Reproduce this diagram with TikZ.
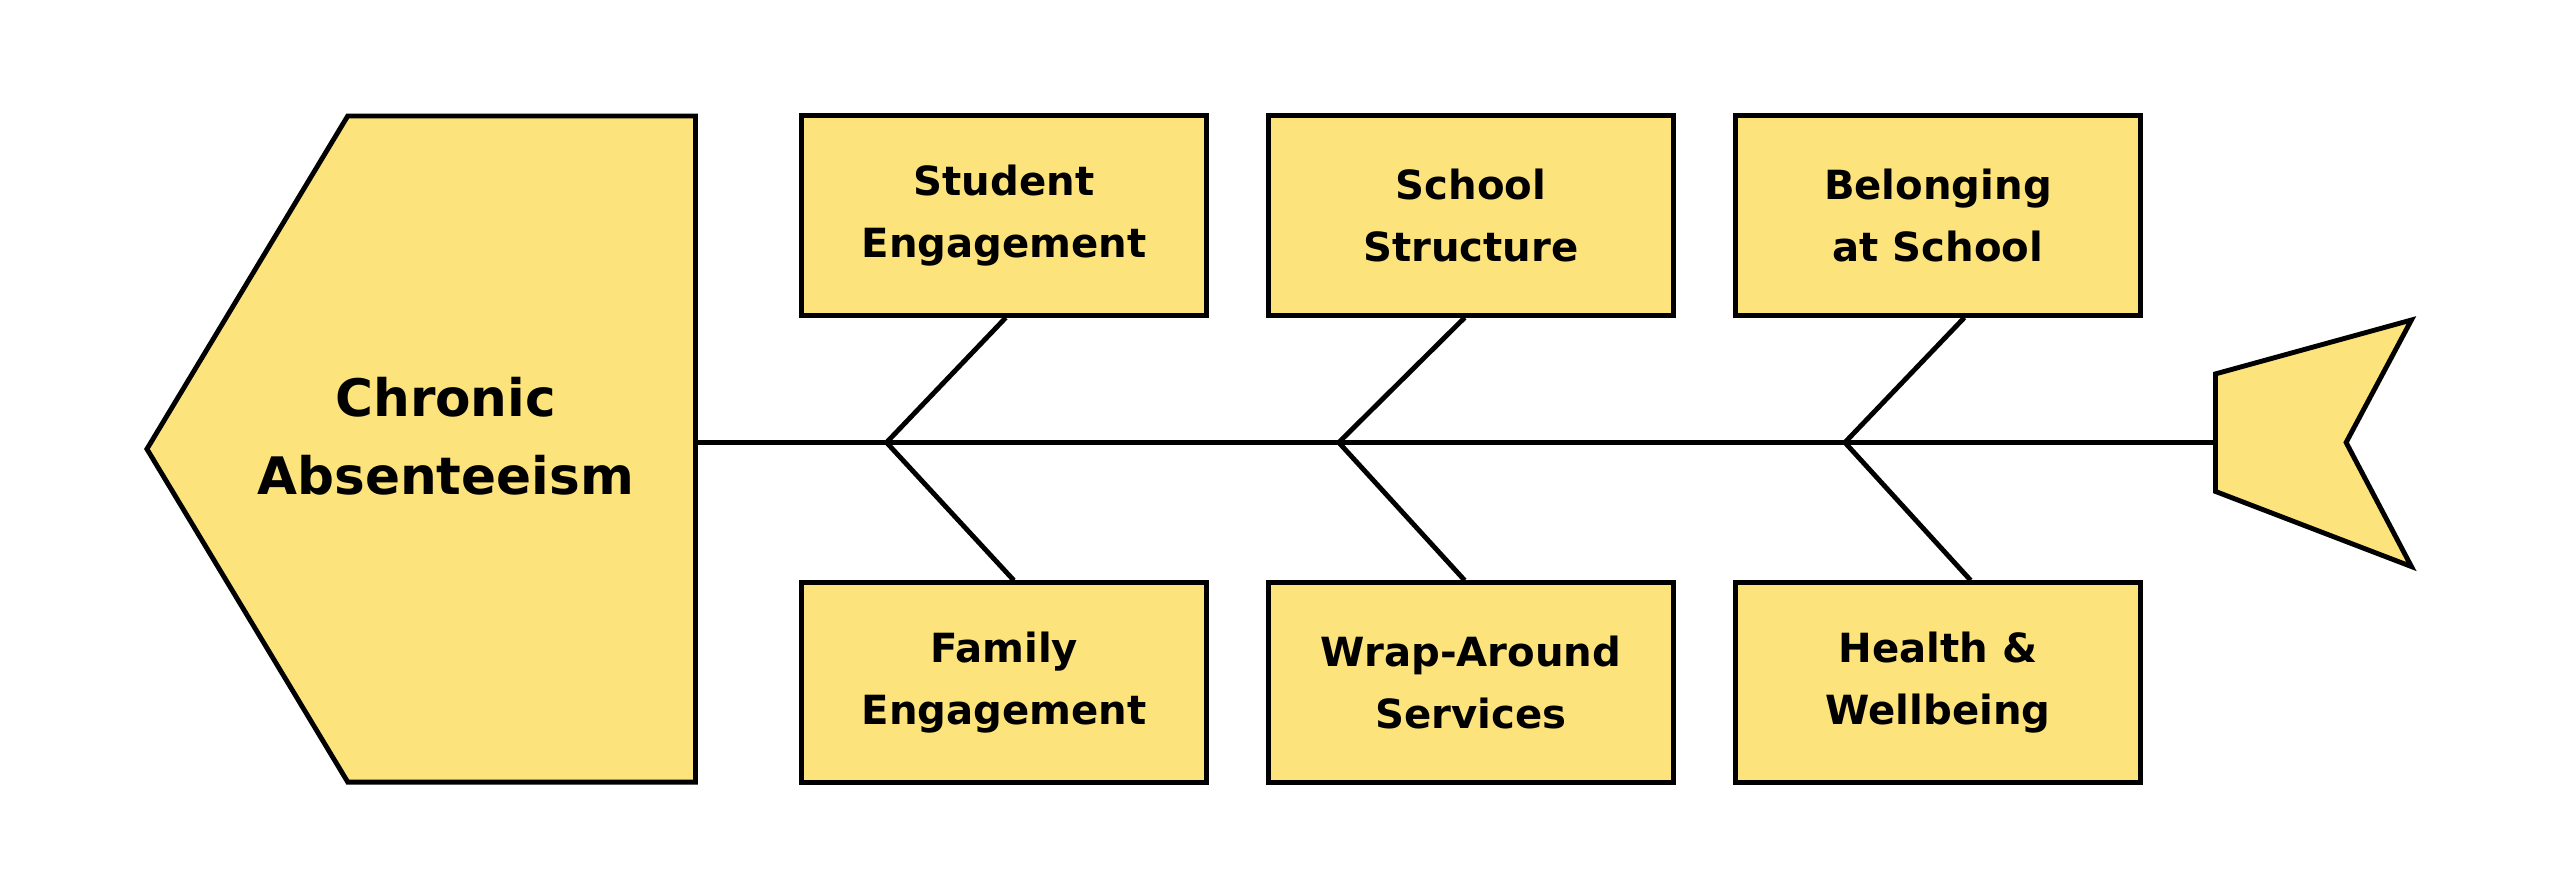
\documentclass[tikz,border=0pt]{standalone}
\usepackage{fontspec}
\setmainfont{DejaVu Sans}
\usepackage{tikz}
\definecolor{bonefill}{HTML}{FDE37B}

\begin{document}
\begin{tikzpicture}[x=0.01cm,y=-0.01cm,line width=0.85pt,
    cause/.style={draw,fill=bonefill,minimum width=2.48cm,minimum height=1.22cm,
      inner sep=0pt,align=center,font=\bfseries\fontsize{7}{10.8}\selectfont}]

    \useasboundingbox (0,0) rectangle (1568,535);

    % head and tail
    \draw[fill=bonefill] (90,275) -- (213,71) -- (426,71) -- (426,479) -- (213,479) -- cycle;
    \node[font=\bfseries\fontsize{9}{13.6}\selectfont,align=center] (effect) at (273,267) {Chronic\\Absenteeism};
    \draw[fill=bonefill] (1357,229) -- (1477,196) -- (1437,271) -- (1477,347) -- (1357,301) -- cycle;
    \coordinate (head) at (426,271);
    \coordinate (tail) at (1357,271);

    % spine joints
    \coordinate (j1) at (543,271);
    \coordinate (j2) at (820,271);
    \coordinate (j3) at (1130,271);

    \node[cause] (se) at (615,132) {Student\\Engagement};
    \node[cause] (ss) at (901,132) {School\\Structure};
    \node[cause] (bs) at (1187,132) {Belonging\\at School};
    \node[cause] (fe) at (615,418) {Family\\Engagement};
    \node[cause] (wa) at (901,418) {Wrap-Around\\Services};
    \node[cause] (hw) at (1187,418) {Health \&\\Wellbeing};

    \draw (head) -- (tail);
    \draw ([xshift=0.3pt]se.south) -- (j1) -- ([xshift=1.7pt]fe.north);
    \draw ([xshift=-1.1pt]ss.south) -- (j2) -- ([xshift=-1.1pt]wa.north);
    \draw ([xshift=4.6pt]bs.south) -- (j3) -- ([xshift=5.7pt]hw.north);
\end{tikzpicture}
\end{document}
